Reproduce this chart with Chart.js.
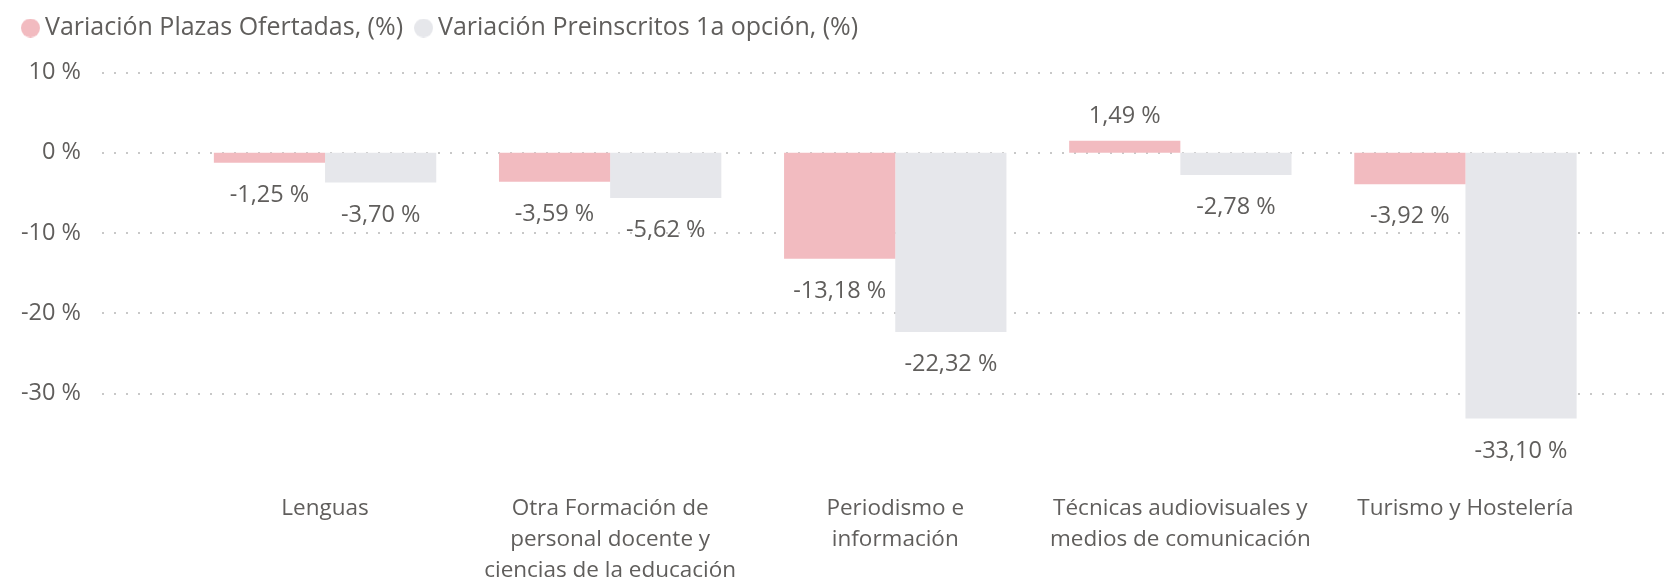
<!DOCTYPE html>
<html>
<head>
<meta charset="utf-8">
<script src="https://cdn.jsdelivr.net/npm/chart.js@4/dist/chart.umd.min.js"></script>
<style>
    body { margin: 0; background: #fff; }
    #wrap { width: 1672px; height: 578px; }
</style>
</head>
<body>
<div id="wrap"><canvas id="myChart"></canvas></div>
<script>
// categorias (una lista por linea de la etiqueta)
const categorias = [
    ["Lenguas"],
    ["Otra Formación de", "personal docente y", "ciencias de la educación"],
    ["Periodismo e", "información"],
    ["Técnicas audiovisuales y", "medios de comunicación"],
    ["Turismo y Hostelería"]
];
const plazasOfertadas = [-1.25, -3.59, -13.18, 1.49, -3.92];
const preinscritos1a = [-3.70, -5.62, -22.32, -2.78, -33.10];
const yTicks = [10, 0, -10, -20, -30];

const serieNombres = ["Variación Plazas Ofertadas, (%)", "Variación Preinscritos 1a opción, (%)"];
const colRosa = "#F2BBC0";
const colGris = "#E6E7EB";
const colTexto = "#605E5C";
const fuente = "'Open Sans', 'Noto Sans', sans-serif";

function formato(v) {
    return v.toFixed(2).replace(".", ",") + " %";
}

// circulito para la leyenda (canvas pequeño)
function circulo(color) {
    const c = document.createElement("canvas");
    c.width = 19;
    c.height = 19;
    const cx = c.getContext("2d");
    cx.fillStyle = color;
    cx.beginPath();
    cx.arc(9.5, 9.5, 9.5, 0, Math.PI * 2);
    cx.fill();
    return c;
}

// lineas punteadas de la rejilla, mas anchas que el area del grafico
const rejilla = {
    id: "rejilla",
    beforeDatasetsDraw(chart) {
        const ctx = chart.ctx;
        const y = chart.scales.y;
        ctx.save();
        ctx.strokeStyle = "#C8C8C8";
        ctx.lineWidth = 2;
        ctx.setLineDash([2, 10]);
        y.ticks.forEach(function (t) {
            const py = Math.round(y.getPixelForValue(t.value));
            ctx.beginPath();
            ctx.moveTo(102, py);
            ctx.lineTo(1668, py);
            ctx.stroke();
        });
        ctx.restore();
    }
};

// etiquetas de valor encima / debajo de cada barra
const etiquetas = {
    id: "etiquetas",
    afterDatasetsDraw(chart) {
        const ctx = chart.ctx;
        ctx.save();
        ctx.font = "23.5px " + fuente;
        ctx.fillStyle = colTexto;
        ctx.textAlign = "center";
        ctx.textBaseline = "middle";
        chart.data.datasets.forEach(function (ds, i) {
            chart.getDatasetMeta(i).data.forEach(function (bar, j) {
                const v = ds.data[j];
                const py = v < 0 ? bar.y + 32.5 : bar.y - 24.5;
                ctx.fillText(formato(v), bar.x, py);
            });
        });
        ctx.restore();
    }
};

// altura fija para la leyenda
const alturaLeyenda = {
    id: "alturaLeyenda",
    beforeInit(chart) {
        const fitOrig = chart.legend.fit;
        chart.legend.fit = function () {
            fitOrig.bind(chart.legend)();
            this.height = 75.5;
        };
    }
};

const chart = new Chart(document.getElementById("myChart").getContext("2d"), {
    type: "bar",
    data: {
        labels: categorias,
        datasets: [
            { label: serieNombres[0], data: plazasOfertadas, backgroundColor: colRosa, pointStyle: circulo(colRosa) },
            { label: serieNombres[1], data: preinscritos1a, backgroundColor: colGris, pointStyle: circulo(colGris) }
        ]
    },
    options: {
        responsive: true,
        maintainAspectRatio: false,
        animation: false,
        layout: { padding: { left: 10, right: 64, top: -3, bottom: 0 } },
        datasets: {
            bar: { categoryPercentage: 0.78, barPercentage: 1.0 }
        },
        scales: {
            x: {
                grid: { display: false, drawTicks: false },
                border: { display: false },
                ticks: {
                    color: colTexto,
                    font: { family: fuente, size: 22.5, lineHeight: 1.38 },
                    padding: 19,
                    maxRotation: 0,
                    autoSkip: false
                },
                afterFit(s) { s.height = 104; }
            },
            y: {
                min: -40,
                max: 10,
                grid: { display: false, drawTicks: false },
                border: { display: false },
                ticks: {
                    color: colTexto,
                    font: { family: fuente, size: 23.5 },
                    padding: 101.5,
                    callback: function (v) { return v + " %"; }
                },
                afterBuildTicks(s) {
                    s.ticks = yTicks.map(function (v) { return { value: v }; });
                },
                afterFit(s) {
                    s.width = 172.5;
                    // el padding de ticks no debe empujar el area del grafico
                    s.paddingTop = 0;
                    s.paddingBottom = 0;
                }
            }
        },
        plugins: {
            tooltip: { enabled: false },
            legend: {
                position: "top",
                align: "start",
                labels: {
                    color: colTexto,
                    font: { family: fuente, size: 25 },
                    usePointStyle: true,
                    pointStyleWidth: 4,
                    boxHeight: 19,
                    padding: 18.5
                }
            }
        }
    },
    plugins: [rejilla, etiquetas, alturaLeyenda]
});
</script>
</body>
</html>
